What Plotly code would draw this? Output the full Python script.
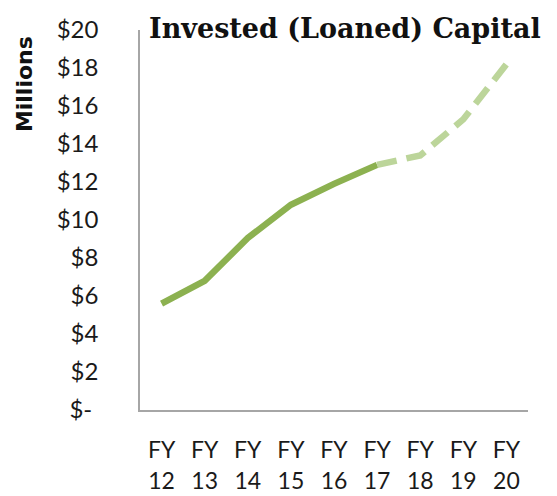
import plotly.graph_objects as go

categories = ["FY12", "FY13", "FY14", "FY15", "FY16", "FY17", "FY18", "FY19", "FY20"]
tick_top = ["FY"] * 9
tick_bottom = ["12", "13", "14", "15", "16", "17", "18", "19", "20"]
actual_values = [5.6, 6.8, 9.05, 10.8, 11.9, 12.9, None, None, None]
projected_values = [None, None, None, None, None, 12.9, 13.4, 15.3, 18.2]
y_tickvals = [0, 2, 4, 6, 8, 10, 12, 14, 16, 18, 20]
y_ticktext = ["$-\u00a0", "$2", "$4", "$6", "$8", "$10", "$12", "$14", "$16", "$18", "$20"]

idx = list(range(len(categories)))
TICK_FONT = dict(family="Lato", size=24, color="#1a1a1a")
XTICK_FONT = dict(family="Lato", size=23, color="#1a1a1a")

fig = go.Figure()
fig.add_trace(go.Scatter(
    x=idx, y=actual_values, mode="lines", xaxis="x", yaxis="y",
    line=dict(color="#8CB150", width=6.5), showlegend=False, hoverinfo="skip",
))
fig.add_trace(go.Scatter(
    x=idx, y=projected_values, mode="lines", xaxis="x2", yaxis="y",
    line=dict(color="#BCD59A", width=6.5, dash="20px,10px"), showlegend=False, hoverinfo="skip",
))

fig.update_layout(
    width=557, height=496,
    margin=dict(l=140, r=29, t=30, b=86),
    paper_bgcolor="white", plot_bgcolor="white",
    xaxis=dict(
        range=[-0.5, 8.5], tickvals=idx, ticktext=tick_top, showgrid=False, zeroline=False,
        showline=True, linecolor="#A6A6A6", linewidth=1.5, ticks="", automargin=False,
        tickfont=XTICK_FONT, ticklabelstandoff=19,
    ),
    xaxis2=dict(
        range=[-0.5, 8.5], tickvals=idx, ticktext=tick_bottom, showgrid=False, zeroline=False,
        overlaying="x", side="bottom", anchor="y", showline=False, ticks="", automargin=False,
        tickfont=XTICK_FONT, ticklabelstandoff=55,
    ),
    yaxis=dict(
        range=[0, 20], tickvals=y_tickvals, ticktext=y_ticktext, showgrid=False, zeroline=False,
        showline=True, linecolor="#A6A6A6", linewidth=1.5, ticks="", automargin=False,
        tickfont=TICK_FONT, ticklabelstandoff=35,
    ),
    annotations=[
        dict(text="<b>Invested (Loaned) Capital</b>", xref="paper", yref="paper",
             x=0.018, y=1.005, xanchor="left", yanchor="middle", showarrow=False,
             font=dict(family="DejaVu Serif", size=27, color="#111111")),
        dict(text="<b>Millions</b>", xref="paper", yref="paper",
             x=-0.296, y=0.858, xanchor="center", yanchor="middle", showarrow=False,
             textangle=-90, font=dict(family="DejaVu Sans", size=22, color="#111111")),
    ],
)

fig.write_html("out.html")
